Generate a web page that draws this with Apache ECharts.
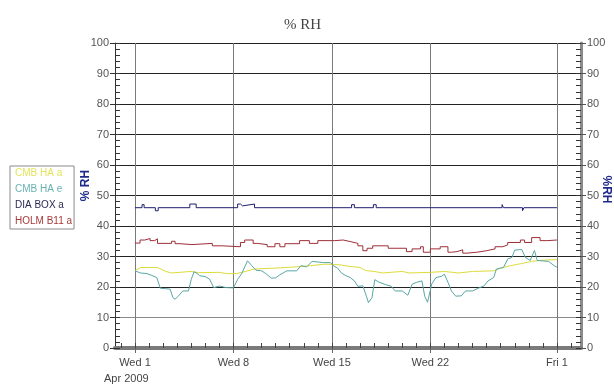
<!DOCTYPE html>
<html>
<head>
<meta charset="utf-8">
<script src="https://cdn.jsdelivr.net/npm/echarts@6/dist/echarts.min.js"></script>
<style>html,body{margin:0;padding:0;background:#fff}#c{width:614px;height:385px}</style>
</head>
<body>
<div id="c"></div>
<script>
// x values are days since Wed 1 Apr 2009 00:00
const seriesNames = ['CMB HA a', 'CMB HA e', 'DIA BOX a', 'HOLM B11 a'];
const xTickValues = [0, 7, 14, 21, 30];
const xTickLabels = ['Wed 1', 'Wed 8', 'Wed 15', 'Wed 22', 'Fri 1'];
const dayTicks = [-1,0,1,2,3,4,5,6,7,8,9,10,11,12,13,14,15,16,17,18,19,20,21,22,23,24,25,26,27,28,29,30,31];

const cmbHaA = [[0,25.3],[0.4,26.4],[1.6,26.4],[2.2,25.1],[2.6,24.6],[2.7,25.1],[4.0,25.1],[4.5,24.7],[4.6,25.1],[6.0,24.8],[6.5,24.4],[7.2,24.4],[7.6,24.8],[8.5,25.9],[10.0,26.2],[11.5,26.6],[12.5,27.0],[13.5,27.5],[14.5,27.3],[15.2,26.8],[16.0,26.4],[16.4,25.4],[17.0,25.1],[17.6,24.6],[17.7,25.1],[19.0,25.1],[19.5,24.6],[19.6,25.1],[21.0,24.8],[22.0,25.1],[23.0,24.6],[23.1,25.1],[24.0,25.1],[25.5,25.3],[26.0,26.2],[26.7,27.0],[27.5,27.7],[28.2,28.4],[29.0,28.8],[30.0,29.0]];

const cmbHaE = [[0,25.3],[0.4,24.6],[0.85,24.4],[1.2,23.8],[1.55,23.1],[1.8,19.6],[2.5,19.3],[2.7,16.5],[2.85,16.0],[3.1,17.1],[3.4,18.7],[3.8,18.7],[4.0,22.5],[4.2,25.0],[4.4,24.5],[4.6,23.7],[5.0,23.4],[5.3,22.6],[5.6,19.8],[6.0,20.3],[6.5,19.8],[7.0,19.7],[7.3,22.5],[7.6,24.5],[8.0,28.6],[8.3,27.0],[8.6,25.5],[9.0,25.3],[9.3,24.4],[9.7,22.9],[10.0,23.0],[10.3,24.0],[10.8,25.3],[11.5,25.3],[11.8,27.0],[12.2,26.6],[12.6,28.4],[13.0,28.2],[13.4,28.0],[13.9,28.0],[14.1,27.0],[14.4,26.2],[14.7,24.5],[15.0,23.7],[15.3,23.1],[15.6,22.0],[15.85,20.2],[16.2,20.4],[16.45,17.0],[16.6,14.9],[16.85,16.5],[17.05,22.4],[17.3,21.7],[17.8,20.8],[18.2,20.3],[18.5,18.7],[19.0,18.7],[19.4,17.3],[19.7,20.9],[20.0,21.5],[20.4,22.0],[20.6,17.0],[20.8,15.0],[21.1,21.0],[21.4,23.1],[21.8,23.5],[22.0,24.2],[22.3,21.0],[22.5,18.7],[22.8,17.0],[23.2,17.1],[23.5,18.7],[24.0,18.7],[24.5,19.8],[24.8,20.3],[25.1,22.0],[25.5,23.1],[25.7,25.9],[26.2,26.4],[26.5,29.2],[26.8,29.7],[27.0,32.1],[27.5,32.3],[27.75,29.7],[28.1,28.7],[28.4,32.0],[28.6,28.7],[29.4,28.4],[29.8,27.0],[30.0,26.5]];

const diaBoxA = [[0,46],[0.5,47],[0.65,46],[1.45,45],[1.65,46],[3.9,47.2],[4.35,46],[7.3,47.2],[7.5,46.6],[7.65,47.2],[8.5,46],[15.4,47],[15.6,46],[16.95,47],[17.15,46],[26.1,47],[26.2,46],[27.55,45],[27.65,46],[30,46]];

const holmB11A = [[0,34.4],[0.36,35.4],[0.7,35.9],[1.07,35.2],[1.4,35.8],[1.6,34.3],[2.6,35.0],[2.85,34.2],[3.2,33.9],[4.05,34.3],[5.5,33.5],[6.2,33.2],[7.5,34.6],[7.8,35.4],[8.4,34.3],[8.7,33.9],[9.4,33.2],[9.95,34.2],[10.3,33.2],[10.66,34.2],[11.7,35.2],[12.4,34.3],[13,35.2],[14.2,35.4],[14.8,34.9],[15.3,34.3],[15.85,33.5],[16.2,31.9],[16.5,32.7],[16.9,33.5],[18,32.7],[19.3,31.6],[19.7,32.5],[20.3,33.2],[20.5,31.4],[21,32.5],[21.7,33.2],[22.25,31.4],[22.5,31.6],[22.9,32.2],[23.3,31.1],[23.6,31.4],[24.3,31.9],[25,32.5],[25.6,33.2],[26.15,33.8],[26.5,34.6],[27.4,35.4],[27.7,34.6],[28.2,36.2],[28.8,35.2],[29.3,35.4],[30,35.4]];

const lineColors = ['#dcdc3c', '#5aa6a6', '#1f1f6e', '#9e2f37'];
const legendColors = ['#e4e45a', '#6ab2b2', '#2a2a55', '#a83a3a'];

const FONT = 'Liberation Sans, Arial, sans-serif';
const xMin = -1.42, xMax = 31.71;

const chart = echarts.init(document.getElementById('c'), null, {renderer: 'canvas'});
const labelMap = {};
xTickValues.forEach((v, i) => labelMap[v] = xTickLabels[i]);

const gridColors = ['#222','#8a8a8a','#222','#222','#222','#222','#222','#222','#222','#222','#222'];

const yBase = {type: 'value', min: 0, max: 100};
chart.setOption({
  animation: false,
  backgroundColor: '#fff',
  title: {
    text: '% RH', left: 279, top: 13,
    textStyle: {fontFamily: 'Liberation Serif, serif', fontSize: 15, fontWeight: 'normal', color: '#444'}
  },
  legend: {
    orient: 'vertical', left: 10, top: 166,
    icon: 'none', itemWidth: 0, itemHeight: 12, itemGap: 5,
    padding: [1, 2, 3, 0],
    borderColor: '#8a8a8a', borderWidth: 1,
    selectedMode: false,
    textStyle: {fontFamily: FONT, fontSize: 10},
    data: seriesNames.map((n, i) => ({name: n, textStyle: {color: legendColors[i]}}))
  },
  grid: {left: 115, right: 33, top: 43, bottom: 37, containLabel: false, outerBoundsMode: 'none'},
  xAxis: [
    {
      type: 'value', min: xMin, max: xMax, position: 'bottom',
      axisLine: {show: true, onZero: false, lineStyle: {color: '#7a7a7a', width: 4}},
      axisTick: {show: true, customValues: xTickValues, length: 5, lineStyle: {color: '#666'}},
      axisLabel: {show: true, customValues: xTickValues, margin: 9, fontFamily: FONT, fontSize: 11, color: '#444',
        formatter: v => labelMap[v] !== undefined ? labelMap[v] : ''},
      splitLine: {show: true, lineStyle: {color: '#7a7a7a', width: 1}}
    },
    {
      type: 'value', min: xMin, max: xMax, position: 'bottom',
      axisLine: {show: false, onZero: false},
      axisTick: {show: true, inside: true, customValues: dayTicks, length: 5, lineStyle: {color: '#444'}},
      axisLabel: {show: false},
      splitLine: {show: false}
    }
  ],
  yAxis: [
    Object.assign({}, yBase, {
      position: 'left', interval: 10,
      name: '% RH', nameLocation: 'middle', nameGap: 23, nameRotate: 90, nameMoveOverlap: false,
      nameTextStyle: {color: '#1e2a8a', fontWeight: 'bold', fontFamily: FONT, fontSize: 12, padding: [0, 0, 0, 20]},
      axisLine: {show: true, onZero: false, lineStyle: {color: '#333', width: 1}},
      axisTick: {show: true, length: 5, lineStyle: {color: '#333'}},
      axisLabel: {margin: 6, fontFamily: FONT, fontSize: 11, color: '#555'},
      splitLine: {show: true, lineStyle: {color: gridColors, width: 1}}
    }),
    Object.assign({}, yBase, {
      position: 'left', interval: 2,
      axisLine: {show: false, onZero: false},
      axisTick: {show: true, inside: true, length: 5, lineStyle: {color: '#333'}},
      axisLabel: {show: false}, splitLine: {show: false}
    }),
    Object.assign({}, yBase, {
      position: 'right', interval: 10,
      name: '%RH', nameLocation: 'middle', nameGap: 19, nameRotate: -90, nameMoveOverlap: false,
      nameTextStyle: {color: '#1e2a8a', fontWeight: 'bold', fontFamily: FONT, fontSize: 12, padding: [0, 12, 0, 0]},
      axisLine: {show: true, onZero: false, lineStyle: {color: '#8a8a8a', width: 3}},
      axisTick: {show: true, length: 5, lineStyle: {color: '#555'}},
      axisLabel: {margin: 6, fontFamily: FONT, fontSize: 11, color: '#555'},
      splitLine: {show: false}
    }),
    Object.assign({}, yBase, {
      position: 'right', interval: 2,
      axisLine: {show: false, onZero: false},
      axisTick: {show: true, inside: true, length: 5, lineStyle: {color: '#333'}},
      axisLabel: {show: false}, splitLine: {show: false}
    })
  ],
  graphic: [{
    type: 'text', left: 104, top: 373,
    style: {text: 'Apr 2009', fontFamily: FONT, fontSize: 11, fill: '#444'}
  }],
  series: [
    {name: seriesNames[0], type: 'line', data: cmbHaA, showSymbol: false, lineStyle: {width: 1, color: lineColors[0]}, itemStyle: {color: lineColors[0]}},
    {name: seriesNames[1], type: 'line', data: cmbHaE, showSymbol: false, lineStyle: {width: 1, color: lineColors[1]}, itemStyle: {color: lineColors[1]}},
    {name: seriesNames[2], type: 'line', step: 'end', data: diaBoxA, showSymbol: false, lineStyle: {width: 1, color: lineColors[2]}, itemStyle: {color: lineColors[2]}},
    {name: seriesNames[3], type: 'line', step: 'end', data: holmB11A, showSymbol: false, lineStyle: {width: 1, color: lineColors[3]}, itemStyle: {color: lineColors[3]}}
  ]
});
</script>
</body>
</html>
